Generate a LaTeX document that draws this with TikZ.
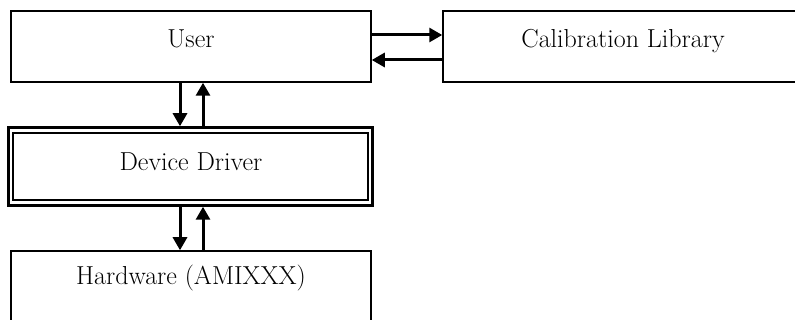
\documentclass[tikz,border=0pt]{standalone}
\usetikzlibrary{arrows.meta}
\begin{document}
\begin{tikzpicture}[x=1pt,y=-1pt,
  box/.style={draw=black,line width=1.5pt,fill=white},
  lbl/.style={anchor=base,inner sep=0pt,font=\fontsize{26}{30}\selectfont},
  conn/.style={line width=3pt,-{Triangle[length=13pt,width=14pt]}}]
\useasboundingbox (0,0) rectangle (795,320);
\begin{scope}
\clip (0,0) rectangle (795,320);
\node[box,minimum width=360pt,minimum height=71pt,inner sep=0pt] (user) at (191,46.5) {};
\node[box,minimum width=360pt,minimum height=71pt,inner sep=0pt] (calib) at (623,46.5) {};
\node[draw=black,line width=2.5pt,fill=white,minimum width=364pt,minimum height=78pt,inner sep=0pt] (ddo) at (190.5,166.5) {};
\node[draw=black,line width=2pt,minimum width=355pt,minimum height=67pt,inner sep=0pt] (dd) at (190.5,166.5) {};
\node[box,minimum width=360pt,minimum height=100pt,inner sep=0pt] (hw) at (191,301) {};
\end{scope}
\node[lbl] (tuser) at (191,48) {User};
\node[lbl] (tcalib) at (623,48) {Calibration Library};
\node[lbl] (tdd) at (191,171) {Device Driver};
\node[lbl] (thw) at (191,285) {Hardware (AMIXXX)};
\draw[conn] (user.east |- 0,35) -- (calib.west |- 0,35);
\draw[conn] (calib.west |- 0,60) -- (user.east |- 0,60);
\draw[conn] (user.south -| 180,0) -- (ddo.north -| 180,0);
\draw[conn] (ddo.north -| 203,0) -- (user.south -| 203,0);
\draw[conn] (ddo.south -| 180,0) -- (hw.north -| 180,0);
\draw[conn] (hw.north -| 203,0) -- (ddo.south -| 203,0);
\end{tikzpicture}
\end{document}
